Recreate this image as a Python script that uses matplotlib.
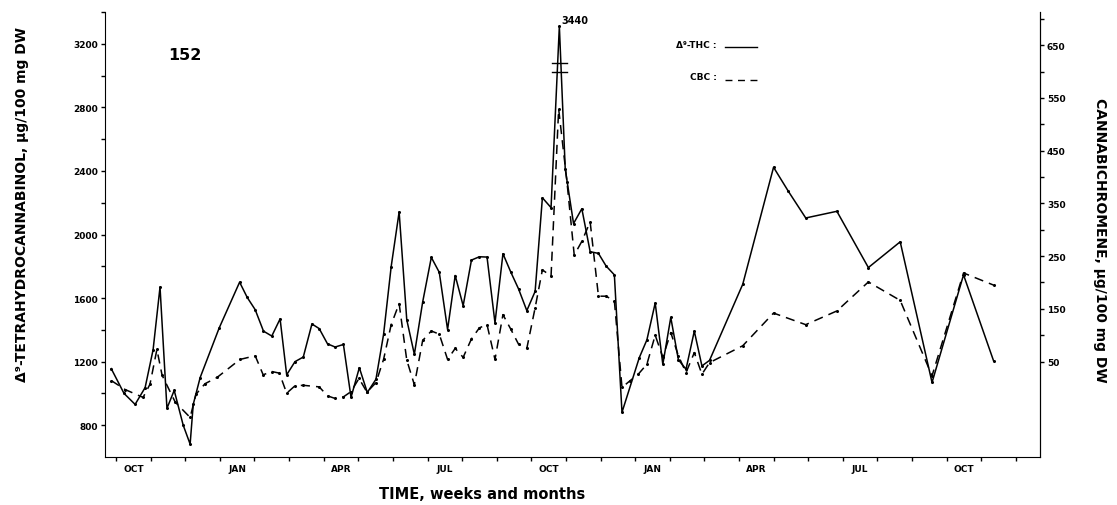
import numpy as np
import matplotlib
matplotlib.use("Agg")
import matplotlib.pyplot as plt
from matplotlib.ticker import FixedLocator, NullFormatter

plt.rcParams['font.family'] = ['DejaVu Sans']
plt.rcParams['font.weight'] = 'bold'

# time axis in months, 0 = start of first October
thc_x = [-0.14, 0.23, 0.55, 0.84, 1.07, 1.27, 1.47, 1.68, 1.94, 2.14, 2.23, 2.43, 2.98,
         3.57, 3.79, 4.02, 4.26, 4.50, 4.74, 4.93, 5.17, 5.41, 5.66, 5.87, 6.11, 6.33,
         6.57, 6.79, 7.03, 7.26, 7.51, 7.73, 7.95, 8.18, 8.40, 8.62, 8.86, 9.11, 9.34,
         9.58, 9.80, 10.03, 10.27, 10.50, 10.72, 10.95, 11.18, 11.41, 11.63, 11.87,
         12.11, 12.32, 12.57, 12.81, 12.98, 13.22, 13.46, 13.70, 13.94, 14.16, 14.40,
         14.62, 15.12, 15.34, 15.58, 15.80, 16.03, 16.25, 16.47, 16.71, 16.93, 17.15,
         18.11, 19.00, 19.43, 19.93, 20.83, 21.74, 22.66, 23.58, 24.49, 25.36]
thc = [1156, 1000, 931, 1037, 1275, 1669, 906, 1019, 800, 681, 931, 1100, 1412,
       1700, 1604, 1527, 1392, 1361, 1469, 1117, 1200, 1229, 1437, 1408, 1312, 1292,
       1308, 975, 1162, 1006, 1089, 1371, 1798, 2142, 1464, 1246, 1575, 1856, 1762,
       1402, 1742, 1552, 1839, 1860, 1858, 1444, 1879, 1762, 1658, 1521,
       1642, 2231, 2169, 3440, 2412, 2069, 2162, 1892, 1881, 1802, 1746,
       881, 1225, 1337, 1569, 1183, 1478, 1212, 1152, 1392, 1173, 1208,
       1687, 2423, 2271, 2104, 2146, 1792, 1954, 1069, 1746, 1204]

cbc_x = [-0.14, 0.26, 0.78, 0.98, 1.18, 1.33, 1.71, 2.14, 2.31, 2.57, 2.92, 3.58,
         4.02, 4.25, 4.51, 4.72, 4.93, 5.17, 5.41, 5.87, 6.11, 6.33, 6.57, 6.79, 7.02,
         7.25, 7.51, 7.73, 7.95, 8.18, 8.40, 8.62, 8.86, 9.11, 9.34, 9.58, 9.80, 10.03,
         10.27, 10.50, 10.72, 10.95, 11.18, 11.41, 11.63, 11.87, 12.11, 12.32, 12.57,
         12.79, 13.03, 13.24, 13.46, 13.70, 13.94, 14.16, 14.40, 14.62, 14.86, 15.09,
         15.34, 15.58, 15.80, 16.03, 16.25, 16.47, 16.71, 16.93, 17.15, 18.11, 19.00,
         19.93, 20.83, 21.74, 22.66, 23.58, 24.49, 25.36]
cbc = [14, -3, -18, 7, 73, 24, -27, -56, -12, 8, 20, 54,
       61, 25, 31, 28, -10, 4, 5, 2, -15, -20, -17, -7, 18,
       -8, 10, 54, 120, 160, 53, 6, 90, 108, 102, 54, 75, 58,
       93, 114, 120, 54, 139, 111, 83, 75, 152, 224, 212,
       529, 391, 252, 278, 315, 174, 174, 165, 1, 14, 26,
       45, 100, 58, 105, 61, 29, 67, 26, 48, 80, 142,
       120, 146, 201, 166, 23, 218, 195]

month_labels = ['OCT', 'JAN', 'APR', 'JUL', 'OCT', 'JAN', 'APR', 'JUL', 'OCT']
thc_ticks_major = [800, 1200, 1600, 2000, 2400, 2800, 3200]
cbc_ticks_major = [50, 150, 250, 350, 450, 550, 650]
panel_label = '152'

# axis-break height at which the off-scale THC peak is drawn
PEAK_DRAWN = 3310

fig = plt.figure(figsize=(11.17, 5.06), dpi=100)
ax = fig.add_axes([105/1117, 48/506, 935/1117, 445/506])
ax2 = ax.twinx()

ax.set_xlim(-0.32, 26.7)
ax.set_ylim(600, 3400)
ax2.set_ylim(-131, 713)

thc_plot = np.minimum(np.array(thc, float), PEAK_DRAWN)
ax.plot(thc_x, thc_plot, color='black', lw=1.1, marker='o', ms=1.2)
ax2.plot(cbc_x, cbc, color='black', lw=1.1, dashes=(6, 4), marker='o', ms=1.2)

# axis break marks and true peak value
ipk = int(np.argmax(thc))
px = thc_x[ipk]
for yb in (3080, 3025):
    ax.plot([px - 0.22, px + 0.22], [yb, yb], color='black', lw=1.0)
ax.text(px + 0.06, PEAK_DRAWN + 10, str(thc[ipk]), fontsize=7, fontweight='bold',
        ha='left', va='bottom')

# spines
for a in (ax, ax2):
    a.spines['top'].set_visible(False)
ax2.spines['left'].set_visible(False)
ax2.spines['bottom'].set_visible(False)

# left ticks
ax.yaxis.set_major_locator(FixedLocator(thc_ticks_major))
ax.yaxis.set_minor_locator(FixedLocator(np.arange(1000, 3401, 400)))
ax.tick_params(axis='y', which='both', direction='out', length=3, width=1,
               labelsize=6.5, pad=2)
# right ticks
ax2.yaxis.set_major_locator(FixedLocator(cbc_ticks_major))
ax2.yaxis.set_minor_locator(FixedLocator(np.arange(100, 701, 100)))
ax2.tick_params(axis='y', which='both', direction='out', length=3, width=1,
                labelsize=6.5, pad=2)

# x ticks: month boundaries as minor ticks, season labels at month centres
ax.xaxis.set_minor_locator(FixedLocator(np.arange(0, 27, 1)))
ax.xaxis.set_minor_formatter(NullFormatter())
ax.xaxis.set_major_locator(FixedLocator(np.arange(0.5, 25, 3)))
ax.set_xticklabels(month_labels)
ax.tick_params(axis='x', which='major', length=0, labelsize=6.5, pad=5)
ax.tick_params(axis='x', which='minor', direction='out', length=3, width=1)

for a in (ax, ax2):
    for lbl in a.get_xticklabels() + a.get_yticklabels():
        lbl.set_fontweight('bold')

# labels
fig.text(22/1117, 1 - 205/506, 'Δ⁹-TETRAHYDROCANNABINOL, μg/100 mg DW', rotation=90,
         ha='center', va='center', fontsize=10, fontweight='bold')
fig.text(1100/1117, 1 - 240/506, 'CANNABICHROMENE, μg/100 mg DW', rotation=-90,
         ha='center', va='center', fontsize=10, fontweight='bold')
fig.text(482/1117, 1 - 495/506, 'TIME, weeks and months', ha='center', va='center',
         fontsize=10.5, fontweight='bold')
fig.text(185/1117, 1 - 56/506, panel_label, ha='center', va='center', fontsize=11.5,
         fontweight='bold')

# legend drawn as labelled line samples
fig.text(717/1117, 1 - 45/506, 'Δ⁹-THC :', ha='right', va='center', fontsize=6.5,
         fontweight='bold')
fig.text(717/1117, 1 - 78/506, 'CBC :', ha='right', va='center', fontsize=6.5,
         fontweight='bold')
fig.add_artist(plt.Line2D([725/1117, 757/1117], [1 - 48/506, 1 - 48/506],
                          color='black', lw=1.0, transform=fig.transFigure))
fig.add_artist(plt.Line2D([725/1117, 757/1117], [1 - 81/506, 1 - 81/506],
                          color='black', lw=1.0, dashes=(5, 4), transform=fig.transFigure))

fig.savefig('out.png', dpi=100)
